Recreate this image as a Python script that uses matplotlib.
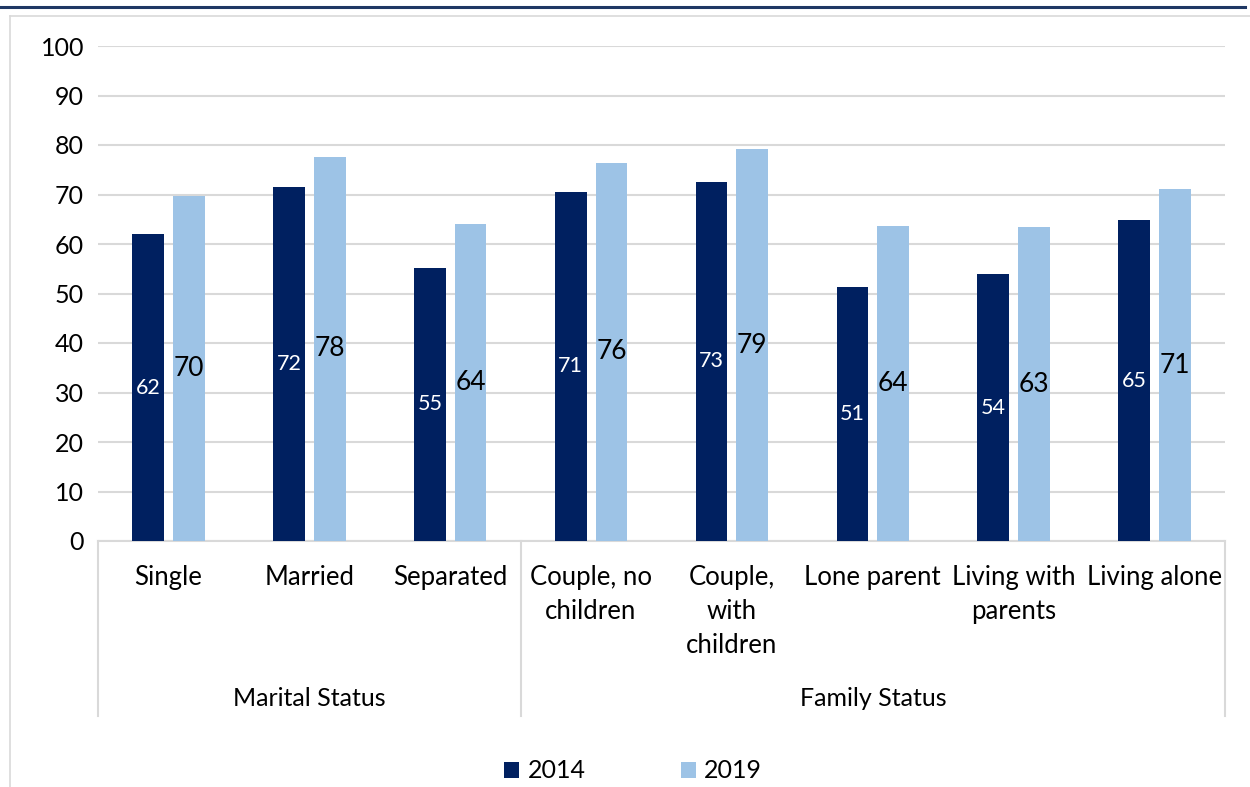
import matplotlib
matplotlib.use("Agg")
import matplotlib.pyplot as plt
from matplotlib.patches import Patch
from matplotlib.lines import Line2D
import numpy as np

categories = ["Single", "Married", "Separated", "Couple, no\nchildren",
              "Couple,\nwith\nchildren", "Lone parent", "Living with\nparents", "Living alone"]
groups = ["Marital Status", "Family Status"]
group_sizes = [3, 5]
values_2014 = [62.0, 71.6, 55.2, 70.6, 72.6, 51.4, 53.9, 64.8]
values_2019 = [69.7, 77.6, 64.0, 76.4, 79.1, 63.6, 63.4, 71.1]
labels_2014 = [62, 72, 55, 71, 73, 51, 54, 65]
labels_2019 = [70, 78, 64, 76, 79, 64, 63, 71]
series_names = ["2014", "2019"]
yticks = [0, 10, 20, 30, 40, 50, 60, 70, 80, 90, 100]

C14 = "#002060"
C19 = "#9DC3E6"
GRID = "#D9D9D9"
FONT = "Lato"

plt.rcParams['font.family'] = [FONT, 'DejaVu Sans']

W, H = 1250, 787
fig = plt.figure(figsize=(W / 100, H / 100), dpi=100)

def fx(px): return px / W
def fy(py): return 1 - py / H

fig.add_artist(Line2D([fx(0), fx(1245)], [fy(7), fy(7)], color="#1F3864", lw=2.2))
fig.add_artist(Line2D([fx(10), fx(1250)], [fy(16), fy(16)], color=GRID, lw=1.2))
fig.add_artist(Line2D([fx(10), fx(10)], [fy(16), fy(787)], color=GRID, lw=1.2))

left, right, top, bottom = 98, 1225, 46, 541
ax = fig.add_axes([fx(left), fy(bottom), fx(right - left), (bottom - top) / H])

x = np.arange(len(categories))
bw = 0.225
off = 0.1445
ax.bar(x - off, values_2014, bw, color=C14, zorder=3)
ax.bar(x + off, values_2019, bw, color=C19, zorder=3)

for xi, v, lab in zip(x, values_2014, labels_2014):
    ax.text(xi - off, v / 2, str(lab), ha="center", va="center", color="white",
            fontsize=15.5, zorder=4)
for xi, v, lab in zip(x, values_2019, labels_2019):
    ax.text(xi + off, v / 2, str(lab), ha="center", va="center", color="black",
            fontsize=19, zorder=4)

ax.set_xlim(-0.5, len(categories) - 0.5)
ax.set_ylim(0, 100)
ax.set_yticks(yticks)
ax.set_yticklabels([str(t) for t in yticks], fontsize=18)
ax.tick_params(axis="y", length=0, pad=10)
ax.set_xticks([])
ax.yaxis.grid(True, color=GRID, lw=1.5, zorder=0)
ax.set_axisbelow(True)
for s in ["top", "right", "left"]:
    ax.spines[s].set_visible(False)
ax.spines["bottom"].set_color(GRID)
ax.spines["bottom"].set_linewidth(1.5)

trans = ax.get_xaxis_transform()
ppu = bottom - top
def ay(py): return (bottom - py) / ppu

for xi, c in zip(x, categories):
    ax.text(xi, ay(565), c, ha="center", va="top", fontsize=18.5, transform=trans,
            linespacing=1.45)

edges = [-0.5]
for g in group_sizes:
    edges.append(edges[-1] + g)
for e in edges:
    ax.add_line(Line2D([e, e], [0, ay(716)], color=GRID, lw=1.5, transform=trans,
                       clip_on=False))
for i, g in enumerate(groups):
    cx = (edges[i] + edges[i + 1]) / 2
    ax.text(cx, ay(699), g, ha="center", va="center", fontsize=18, transform=trans)

handles = [Patch(facecolor=C14, label=series_names[0]),
           Patch(facecolor=C19, label=series_names[1])]
fig.legend(handles=handles, loc="center", bbox_to_anchor=(fx(633), fy(771)), ncol=2,
           frameon=False, fontsize=18, handlelength=0.6, handleheight=0.6,
           handletextpad=0.35, columnspacing=3.8)

fig.savefig("out.png", dpi=100)
